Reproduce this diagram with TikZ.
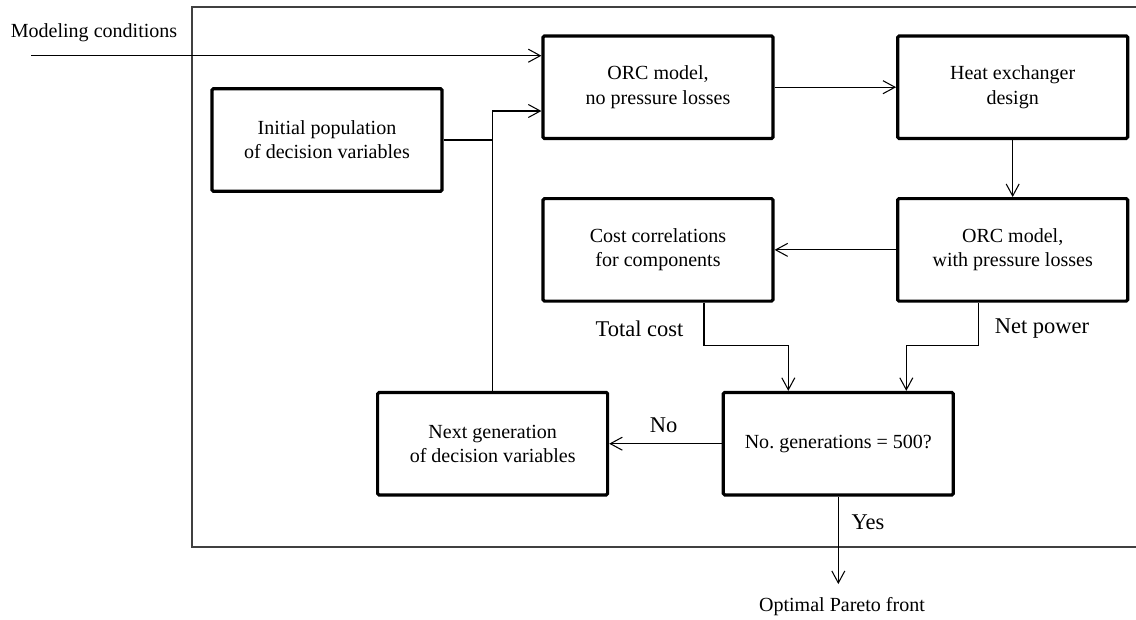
\documentclass[tikz,border=0pt]{standalone}
\usepackage{fontspec}
\setmainfont{Liberation Serif}
\usetikzlibrary{arrows.meta, positioning}

\begin{document}
\begin{tikzpicture}[
  node distance=1.14cm and 2.43cm,
  block/.style={draw, rectangle, line width=1.8pt, rounded corners=0.8pt, align=center, minimum width=4.6cm, minimum height=2.05cm, font=\fontsize{11.4}{13.7}\selectfont},
  lbl/.style={inner sep=0pt, font=\fontsize{12.8}{15}\selectfont},
  note/.style={inner sep=0pt, font=\fontsize{11.4}{13.7}\selectfont},
  flow/.style={line width=0.6pt, -{Straight Barb[length=2.4mm, width=2.6mm]}}
]
\useasboundingbox (0,0) rectangle (22.72,-12.38);
\draw[line width=0.6pt, black!75] (22.72,-0.14) -- (3.84,-0.14) -- (3.84,-10.94) -- (22.72,-10.94);

\node[block] (orc1) at (13.16,-1.744) {ORC model,\\no pressure losses};
\node[block] (hx) [right=of orc1] {Heat exchanger\\design};
\node[block] (cost) [below=of orc1] {Cost correlations\\for components};
\node[block] (orc2) [below=of hx] {ORC model,\\with pressure losses};
\node[block] (init) at (6.54,-2.80) {Initial population\\of decision variables};
\node[block] (next) at (9.853,-8.874) {Next generation\\of decision variables};
\node[block] (gen) [right=2.25cm of next] {No.\ generations = 500?};

\node[note, anchor=west] (modlbl) at (0.21,-0.66) {Modeling conditions};
\node[lbl] (costlbl) at (12.79,-6.58) {Total cost};
\node[lbl] (powlbl) at (20.84,-6.58) {Net power};
\node[lbl] (nolbl) at (13.27,-8.50) {No};
\node[lbl] (yeslbl) at (17.36,-10.44) {Yes};
\node[note] (pareto) at (16.84,-12.14) {Optimal Pareto front};
\coordinate (modstart) at (0.62,-1.114);
\coordinate (yesend) at ([yshift=-1.75cm]gen.south);

\draw[flow] (modstart) -- (modstart -| orc1.west);
\draw[line width=0.6pt] (init.east) -- (init.east -| next.north);
\draw[flow] (next.north) |- ([yshift=-0.476cm]orc1.west);
\draw[flow] (orc1) -- (hx);
\draw[flow] (hx) -- (orc2);
\draw[flow] (orc2) -- (cost);
\draw[flow] ([xshift=0.92cm]cost.south) -- ++(0,-0.86) -| ([xshift=-1cm]gen.north);
\draw[flow] ([xshift=-0.68cm]orc2.south) -- ++(0,-0.86) -| ([xshift=1.36cm]gen.north);
\draw[flow] (gen) -- (next);
\draw[flow] (gen.south) -- (yesend);
\end{tikzpicture}
\end{document}
